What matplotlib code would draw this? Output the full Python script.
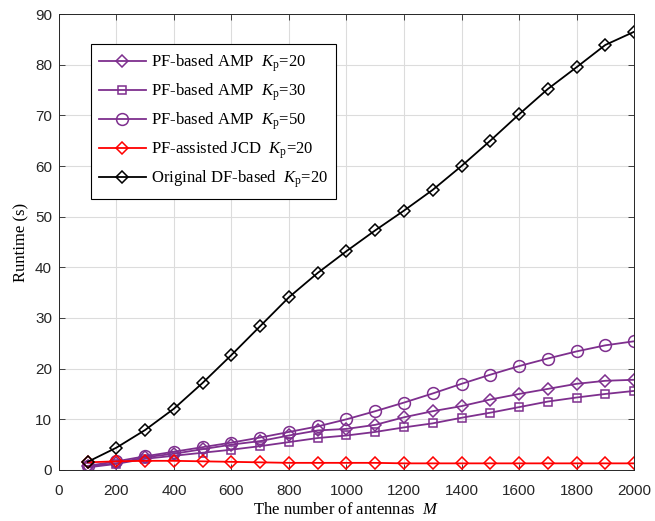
import matplotlib
matplotlib.use('Agg')
import matplotlib.pyplot as plt
import numpy as np

# antennas M and runtime values (s)
M = [100, 200, 300, 400, 500, 600, 700, 800, 900, 1000,
     1100, 1200, 1300, 1400, 1500, 1600, 1700, 1800, 1900, 2000]

amp_kp20 = [0.7, 1.3, 2.5, 3.2, 4.1, 5.0, 5.7, 6.8, 7.8, 8.1,
            8.9, 10.4, 11.6, 12.6, 13.9, 15.0, 16.0, 17.0, 17.6, 17.8]
amp_kp30 = [0.5, 1.2, 2.2, 2.8, 3.4, 4.0, 4.7, 5.5, 6.3, 6.8,
            7.5, 8.4, 9.2, 10.3, 11.3, 12.4, 13.5, 14.3, 15.0, 15.6]
amp_kp50 = [0.8, 1.7, 2.7, 3.6, 4.5, 5.4, 6.4, 7.5, 8.6, 10.0,
            11.6, 13.3, 15.1, 17.0, 18.8, 20.5, 22.0, 23.4, 24.6, 25.4]
jcd_kp20 = [1.5, 1.7, 1.8, 1.8, 1.7, 1.6, 1.5, 1.4, 1.4, 1.4,
            1.4, 1.3, 1.3, 1.3, 1.3, 1.3, 1.3, 1.3, 1.3, 1.3]
df_kp20 = [1.6, 4.4, 7.9, 12.1, 17.2, 22.7, 28.4, 34.1, 38.9, 43.2,
           47.3, 51.2, 55.3, 60.0, 65.0, 70.2, 75.2, 79.5, 83.9, 86.5]

labels = ['PF-based AMP  $\\mathit{K}_{\\mathrm{p}}$=20',
          'PF-based AMP  $\\mathit{K}_{\\mathrm{p}}$=30',
          'PF-based AMP  $\\mathit{K}_{\\mathrm{p}}$=50',
          'PF-assisted JCD  $\\mathit{K}_{\\mathrm{p}}$=20',
          'Original DF-based  $\\mathit{K}_{\\mathrm{p}}$=20']

plt.rcParams['mathtext.fontset'] = 'custom'
plt.rcParams['mathtext.rm'] = 'Liberation Serif'
plt.rcParams['mathtext.it'] = 'Liberation Serif:italic'

purple = '#7E2F8E'
axcol = '#262626'

fig = plt.figure(figsize=(6.55, 5.21), dpi=100)
ax = fig.add_axes([0.090, 0.098, 0.878, 0.875])

ax.plot(M, amp_kp20, color=purple, lw=1.3, marker='D', ms=6.5, mfc='none', mew=1.1)
ax.plot(M, amp_kp30, color=purple, lw=1.3, marker='s', ms=5.5, mfc='none', mew=1.1)
ax.plot(M, amp_kp50, color=purple, lw=1.3, marker='o', ms=8.5, mfc='none', mew=1.1)
ax.plot(M, jcd_kp20, color='red', lw=1.3, marker='D', ms=6.5, mfc='none', mew=1.1)
ax.plot(M, df_kp20, color='black', lw=1.3, marker='D', ms=6.5, mfc='none', mew=1.1)

ax.set_xlim(0, 2000)
ax.set_ylim(0, 90)
ax.set_xticks(np.arange(0, 2001, 200))
ax.set_yticks(np.arange(0, 91, 10))
ax.grid(True, color='#dcdcdc', lw=0.8)
ax.set_axisbelow(True)
ax.tick_params(direction='in', top=True, right=True, colors=axcol,
               labelsize=11, length=4, width=0.6)
ax.tick_params(axis='x', pad=10)
ax.tick_params(axis='y', pad=5)
for lab in ax.get_xticklabels() + ax.get_yticklabels():
    lab.set_family('Liberation Sans')
for s in ax.spines.values():
    s.set_color(axcol)
    s.set_linewidth(0.7)

ax.set_xlabel('The number of antennas  $\\mathit{M}$', family='Liberation Serif',
              fontsize=12, labelpad=3)
ax.set_ylabel('Runtime (s)', family='Liberation Serif', fontsize=12, labelpad=4)

leg = ax.legend(labels, loc='upper left', bbox_to_anchor=(0.055, 0.934),
                prop={'family': 'Liberation Serif', 'size': 12},
                fancybox=False, edgecolor='black', framealpha=1,
                borderaxespad=0, handlelength=2.8, labelspacing=0.45,
                handletextpad=0.3, borderpad=0.5)
leg.get_frame().set_linewidth(0.8)

fig.savefig('out.png', dpi=100)
